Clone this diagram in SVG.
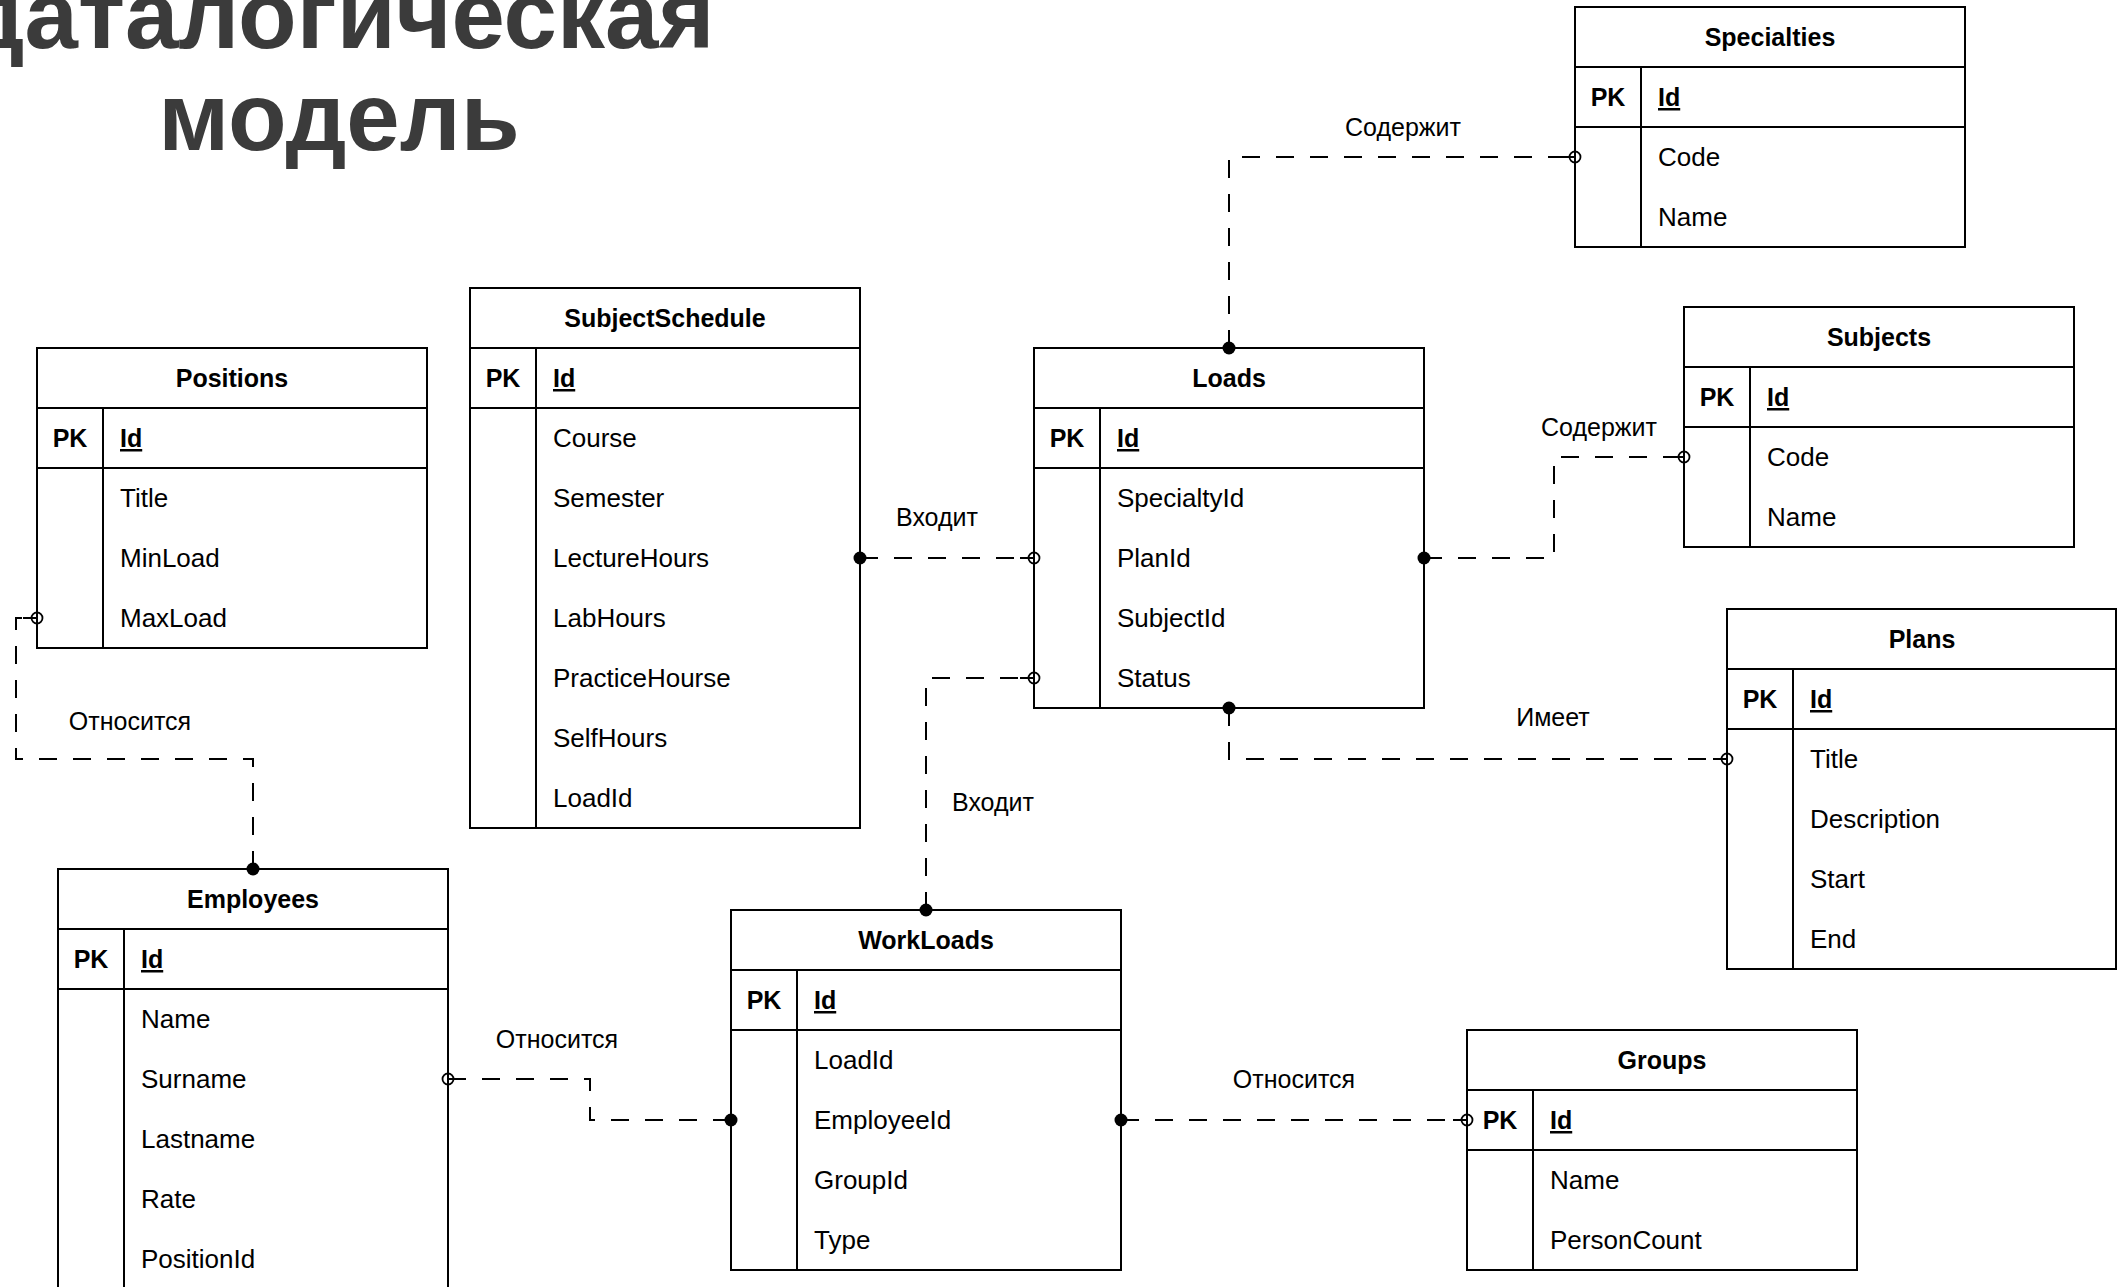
<svg xmlns="http://www.w3.org/2000/svg" width="2117" height="1287" viewBox="0 0 2117 1287">
<defs>
<style>
.bg{fill:#fff}
.box{fill:#fff;stroke:#000;stroke-width:2}
.ln{stroke:#000;stroke-width:2;fill:none}
.hd{font-family:"Liberation Sans",Arial,sans-serif;font-size:25px;font-weight:bold;text-anchor:middle;fill:#000}
.pk{font-family:"Liberation Sans",Arial,sans-serif;font-size:25px;font-weight:bold;text-anchor:middle;fill:#000}
.id{font-family:"Liberation Sans",Arial,sans-serif;font-size:25px;font-weight:bold;text-decoration:underline;fill:#000}
.fd{font-family:"Liberation Sans",Arial,sans-serif;font-size:26px;fill:#000}
.lbl{font-family:"Liberation Sans",Arial,sans-serif;font-size:25px;text-anchor:middle;fill:#000}
.title{font-family:"Liberation Sans",Arial,sans-serif;font-size:96px;font-weight:bold;text-anchor:middle;fill:#3b3b3b}
.dash{fill:none;stroke:#000;stroke-width:2;stroke-dasharray:18 16}
.stub{stroke:#000;stroke-width:2}
.one{fill:#000}
.zero{fill:none;stroke:#000;stroke-width:1.8}
</style>
</defs>
<rect class="bg" x="0" y="0" width="2117" height="1287"/>

<g id="title">
<text class="title" x="339" y="48">даталогическая</text>
<text class="title" x="339" y="150">модель</text>
</g>

<g id="Specialties">
<rect class="box" x="1575" y="7" width="390" height="240"/>
<line class="ln" x1="1575" y1="67" x2="1965" y2="67"/>
<line class="ln" x1="1575" y1="127" x2="1965" y2="127"/>
<line class="ln" x1="1641" y1="67" x2="1641" y2="247"/>
<text class="hd" x="1770" y="46">Specialties</text>
<text class="pk" x="1608" y="106">PK</text>
<text class="id" x="1658" y="106">Id</text>
<text class="fd" x="1658" y="166">Code</text>
<text class="fd" x="1658" y="226">Name</text>
</g>

<g id="Positions">
<rect class="box" x="37" y="348" width="390" height="300"/>
<line class="ln" x1="37" y1="408" x2="427" y2="408"/>
<line class="ln" x1="37" y1="468" x2="427" y2="468"/>
<line class="ln" x1="103" y1="408" x2="103" y2="648"/>
<text class="hd" x="232" y="387">Positions</text>
<text class="pk" x="70" y="447">PK</text>
<text class="id" x="120" y="447">Id</text>
<text class="fd" x="120" y="507">Title</text>
<text class="fd" x="120" y="567">MinLoad</text>
<text class="fd" x="120" y="627">MaxLoad</text>
</g>

<g id="SubjectSchedule">
<rect class="box" x="470" y="288" width="390" height="540"/>
<line class="ln" x1="470" y1="348" x2="860" y2="348"/>
<line class="ln" x1="470" y1="408" x2="860" y2="408"/>
<line class="ln" x1="536" y1="348" x2="536" y2="828"/>
<text class="hd" x="665" y="327">SubjectSchedule</text>
<text class="pk" x="503" y="387">PK</text>
<text class="id" x="553" y="387">Id</text>
<text class="fd" x="553" y="447">Course</text>
<text class="fd" x="553" y="507">Semester</text>
<text class="fd" x="553" y="567">LectureHours</text>
<text class="fd" x="553" y="627">LabHours</text>
<text class="fd" x="553" y="687">PracticeHourse</text>
<text class="fd" x="553" y="747">SelfHours</text>
<text class="fd" x="553" y="807">LoadId</text>
</g>

<g id="Loads">
<rect class="box" x="1034" y="348" width="390" height="360"/>
<line class="ln" x1="1034" y1="408" x2="1424" y2="408"/>
<line class="ln" x1="1034" y1="468" x2="1424" y2="468"/>
<line class="ln" x1="1100" y1="408" x2="1100" y2="708"/>
<text class="hd" x="1229" y="387">Loads</text>
<text class="pk" x="1067" y="447">PK</text>
<text class="id" x="1117" y="447">Id</text>
<text class="fd" x="1117" y="507">SpecialtyId</text>
<text class="fd" x="1117" y="567">PlanId</text>
<text class="fd" x="1117" y="627">SubjectId</text>
<text class="fd" x="1117" y="687">Status</text>
</g>

<g id="Subjects">
<rect class="box" x="1684" y="307" width="390" height="240"/>
<line class="ln" x1="1684" y1="367" x2="2074" y2="367"/>
<line class="ln" x1="1684" y1="427" x2="2074" y2="427"/>
<line class="ln" x1="1750" y1="367" x2="1750" y2="547"/>
<text class="hd" x="1879" y="346">Subjects</text>
<text class="pk" x="1717" y="406">PK</text>
<text class="id" x="1767" y="406">Id</text>
<text class="fd" x="1767" y="466">Code</text>
<text class="fd" x="1767" y="526">Name</text>
</g>

<g id="Plans">
<rect class="box" x="1727" y="609" width="389" height="360"/>
<line class="ln" x1="1727" y1="669" x2="2116" y2="669"/>
<line class="ln" x1="1727" y1="729" x2="2116" y2="729"/>
<line class="ln" x1="1793" y1="669" x2="1793" y2="969"/>
<text class="hd" x="1922" y="648">Plans</text>
<text class="pk" x="1760" y="708">PK</text>
<text class="id" x="1810" y="708">Id</text>
<text class="fd" x="1810" y="768">Title</text>
<text class="fd" x="1810" y="828">Description</text>
<text class="fd" x="1810" y="888">Start</text>
<text class="fd" x="1810" y="948">End</text>
</g>

<g id="Employees">
<rect class="box" x="58" y="869" width="390" height="420"/>
<line class="ln" x1="58" y1="929" x2="448" y2="929"/>
<line class="ln" x1="58" y1="989" x2="448" y2="989"/>
<line class="ln" x1="124" y1="929" x2="124" y2="1289"/>
<text class="hd" x="253" y="908">Employees</text>
<text class="pk" x="91" y="968">PK</text>
<text class="id" x="141" y="968">Id</text>
<text class="fd" x="141" y="1028">Name</text>
<text class="fd" x="141" y="1088">Surname</text>
<text class="fd" x="141" y="1148">Lastname</text>
<text class="fd" x="141" y="1208">Rate</text>
<text class="fd" x="141" y="1268">PositionId</text>
</g>

<g id="WorkLoads">
<rect class="box" x="731" y="910" width="390" height="360"/>
<line class="ln" x1="731" y1="970" x2="1121" y2="970"/>
<line class="ln" x1="731" y1="1030" x2="1121" y2="1030"/>
<line class="ln" x1="797" y1="970" x2="797" y2="1270"/>
<text class="hd" x="926" y="949">WorkLoads</text>
<text class="pk" x="764" y="1009">PK</text>
<text class="id" x="814" y="1009">Id</text>
<text class="fd" x="814" y="1069">LoadId</text>
<text class="fd" x="814" y="1129">EmployeeId</text>
<text class="fd" x="814" y="1189">GroupId</text>
<text class="fd" x="814" y="1249">Type</text>
</g>

<g id="Groups">
<rect class="box" x="1467" y="1030" width="390" height="240"/>
<line class="ln" x1="1467" y1="1090" x2="1857" y2="1090"/>
<line class="ln" x1="1467" y1="1150" x2="1857" y2="1150"/>
<line class="ln" x1="1533" y1="1090" x2="1533" y2="1270"/>
<text class="hd" x="1662" y="1069">Groups</text>
<text class="pk" x="1500" y="1129">PK</text>
<text class="id" x="1550" y="1129">Id</text>
<text class="fd" x="1550" y="1189">Name</text>
<text class="fd" x="1550" y="1249">PersonCount</text>
</g>

<g id="connectors">
<!-- Loads - Specialties -->
<path class="dash" d="M1229,348 V157 H1575"/>
<line class="stub" x1="1561" y1="157" x2="1575" y2="157"/>
<circle class="one" cx="1229" cy="348" r="6.5"/>
<circle class="zero" cx="1575" cy="157" r="5.5"/>
<text class="lbl" x="1403" y="136">Содержит</text>

<!-- SubjectSchedule - Loads -->
<path class="dash" d="M860,558 H1034"/>
<line class="stub" x1="1020" y1="558" x2="1034" y2="558"/>
<circle class="one" cx="860" cy="558" r="6.5"/>
<circle class="zero" cx="1034" cy="558" r="5.5"/>
<text class="lbl" x="937" y="526">Входит</text>

<!-- Loads - Subjects -->
<path class="dash" d="M1424,558 H1554 V457 H1684"/>
<line class="stub" x1="1670" y1="457" x2="1684" y2="457"/>
<circle class="one" cx="1424" cy="558" r="6.5"/>
<circle class="zero" cx="1684" cy="457" r="5.5"/>
<text class="lbl" x="1599" y="436">Содержит</text>

<!-- Loads - Plans -->
<path class="dash" d="M1229,708 V759 H1727"/>
<line class="stub" x1="1713" y1="759" x2="1727" y2="759"/>
<circle class="one" cx="1229" cy="708" r="6.5"/>
<circle class="zero" cx="1727" cy="759" r="5.5"/>
<text class="lbl" x="1553" y="726">Имеет</text>

<!-- WorkLoads - Loads -->
<path class="dash" d="M926,910 V678 H1034"/>
<line class="stub" x1="1020" y1="678" x2="1034" y2="678"/>
<circle class="one" cx="926" cy="910" r="6.5"/>
<circle class="zero" cx="1034" cy="678" r="5.5"/>
<text class="lbl" x="993" y="811">Входит</text>

<!-- Employees - Positions -->
<path class="dash" d="M253,869 V759 H16 V618 H37"/>
<line class="stub" x1="23" y1="618" x2="37" y2="618"/>
<circle class="one" cx="253" cy="869" r="6.5"/>
<circle class="zero" cx="37" cy="618" r="5.5"/>
<text class="lbl" x="130" y="730">Относится</text>

<!-- WorkLoads - Employees -->
<path class="dash" d="M731,1120 H590 V1079 H448"/>
<circle class="one" cx="731" cy="1120" r="6.5"/>
<circle class="zero" cx="448" cy="1079" r="5.5"/>
<text class="lbl" x="557" y="1048">Относится</text>

<!-- WorkLoads - Groups -->
<path class="dash" d="M1121,1120 H1467"/>
<line class="stub" x1="1453" y1="1120" x2="1467" y2="1120"/>
<circle class="one" cx="1121" cy="1120" r="6.5"/>
<circle class="zero" cx="1467" cy="1120" r="5.5"/>
<text class="lbl" x="1294" y="1088">Относится</text>
</g>
</svg>
